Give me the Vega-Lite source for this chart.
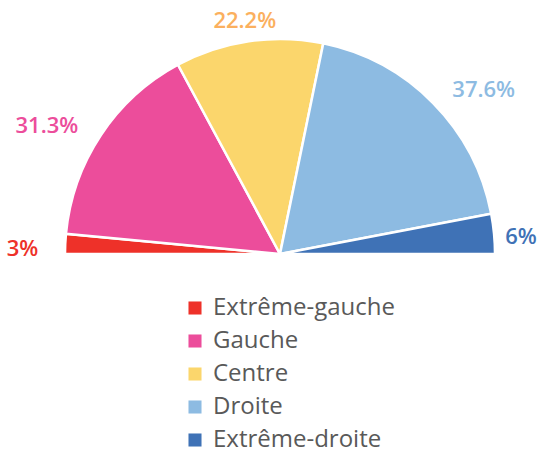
{
  "$schema": "https://vega.github.io/schema/vega-lite/v6.json",
  "width": 560,
  "height": 508,
  "autosize": "none",
  "padding": 0,
  "background": "white",
  "data": {
    "values": [
      {"i": 1, "groupe": "Extrême-gauche", "pct": 3, "label": "3%"},
      {"i": 2, "groupe": "Gauche", "pct": 31.3, "label": "31.3%"},
      {"i": 3, "groupe": "Centre", "pct": 22.2, "label": "22.2%"},
      {"i": 4, "groupe": "Droite", "pct": 37.6, "label": "37.6%"},
      {"i": 5, "groupe": "Extrême-droite", "pct": 6, "label": "6%"}
    ]
  },
  "encoding": {
    "theta": {"field": "pct", "type": "quantitative", "stack": true, "scale": {"range": [-1.5708, 1.5708]}},
    "order": {"field": "i", "type": "quantitative"}
  },
  "layer": [
    {
      "mark": {"type": "arc", "outerRadius": 215, "stroke": "white", "strokeWidth": 2.5},
      "encoding": {
        "color": {
          "field": "groupe",
          "type": "nominal",
          "sort": ["Extrême-gauche", "Gauche", "Centre", "Droite", "Extrême-droite"],
          "scale": {
            "domain": ["Extrême-gauche", "Gauche", "Centre", "Droite", "Extrême-droite"],
            "range": ["#EE3129", "#EC4D9B", "#FBD66C", "#8DBBE2", "#3F72B6"]
          },
          "legend": {
            "title": null,
            "orient": "none",
            "legendX": 183,
            "legendY": 296,
            "symbolType": "square",
            "symbolSize": 170,
            "symbolStrokeWidth": 0,
            "symbolOpacity": 1,
            "labelFont": "Open Sans",
            "labelFontSize": 24,
            "labelColor": "#595959",
            "labelOffset": 6,
            "rowPadding": 9,
            "labelLimit": 320
          }
        }
      }
    },
    {
      "mark": {
        "type": "text",
        "radius": 242,
        "dy": 6,
        "align": {"expr": "(datum.pct_start + datum.pct_end) / 2 < 30 ? 'right' : ((datum.pct_start + datum.pct_end) / 2 > 60 && (datum.pct_start + datum.pct_end) / 2 < 90 ? 'left' : 'center')"},
        "font": "Open Sans",
        "fontSize": 22,
        "fontWeight": 600
      },
      "encoding": {
        "text": {"field": "label"},
        "color": {
          "field": "groupe",
          "type": "nominal",
          "scale": {
            "domain": ["Extrême-gauche", "Gauche", "Centre", "Droite", "Extrême-droite"],
            "range": ["#EE3129", "#EC4D9B", "#FBB05E", "#8DBBE2", "#3F72B6"]
          },
          "legend": null
        }
      }
    }
  ],
  "resolve": {"scale": {"color": "independent"}},
  "config": {"view": {"stroke": null}}
}
